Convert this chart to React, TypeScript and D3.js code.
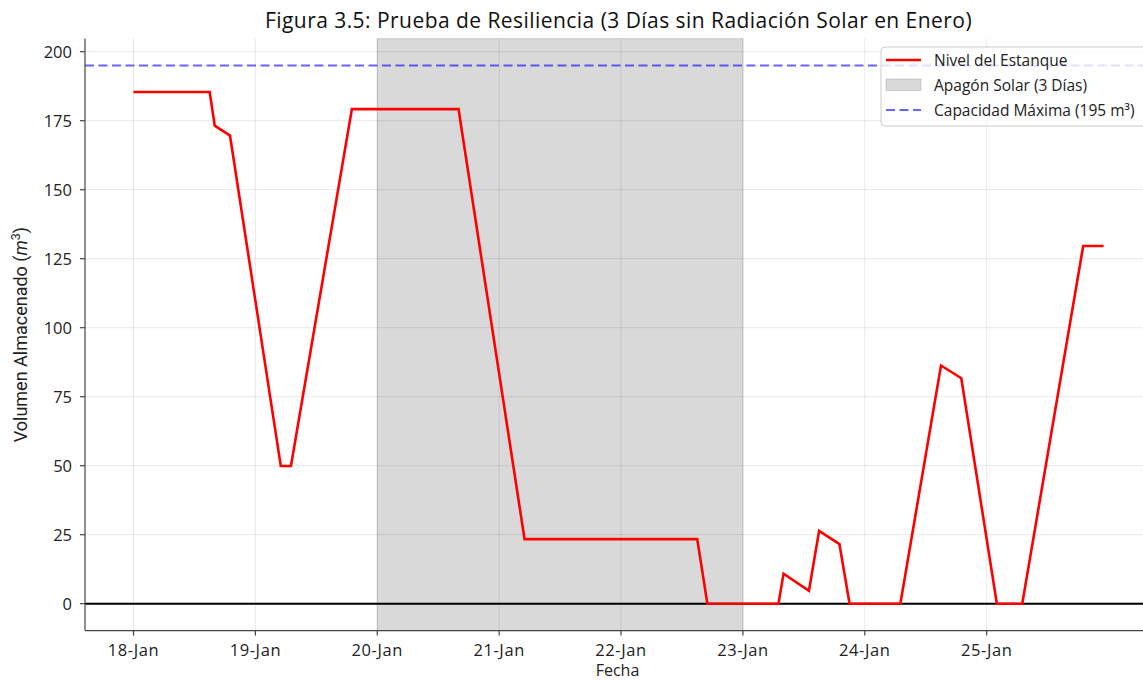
import { useMemo } from "react";
import * as d3 from "d3";

// vertices of the hourly series (hourly points between them lie on straight segments)
const timestamps = [
  "2024-01-18 00:00", "2024-01-18 15:00", "2024-01-18 16:00", "2024-01-18 19:00",
  "2024-01-19 05:00", "2024-01-19 07:00", "2024-01-19 19:00", "2024-01-20 16:00",
  "2024-01-21 05:00", "2024-01-22 15:00", "2024-01-22 17:00", "2024-01-23 07:00",
  "2024-01-23 08:00", "2024-01-23 13:00", "2024-01-23 15:00", "2024-01-23 19:00",
  "2024-01-23 21:00", "2024-01-24 07:00", "2024-01-24 15:00", "2024-01-24 19:00",
  "2024-01-25 02:00", "2024-01-25 07:00", "2024-01-25 19:00", "2024-01-25 23:00",
];
const volumes = [
  185.4, 185.4, 173.2, 169.6,
  49.9, 49.9, 179.2, 179.2,
  23.4, 23.4, 0, 0,
  10.9, 4.7, 26.4, 21.6,
  0, 0, 86.3, 81.7,
  0, 0, 129.6, 129.6,
];
const blackoutStart = "2024-01-20 00:00";
const blackoutEnd = "2024-01-23 00:00";
const capacity = 195;
const yTicks = [0, 25, 50, 75, 100, 125, 150, 175, 200];
const xTickDates = [
  "2024-01-18 00:00", "2024-01-19 00:00", "2024-01-20 00:00", "2024-01-21 00:00",
  "2024-01-22 00:00", "2024-01-23 00:00", "2024-01-24 00:00", "2024-01-25 00:00",
];

const W = 1143;
const H = 682;
const FONT = "'Open Sans', Roboto, sans-serif";

const App = () => {
  const parse = d3.timeParse("%Y-%m-%d %H:%M");
  const fmt = d3.timeFormat("%d-%b");

  const { x, y, points } = useMemo(() => {
    const pts = timestamps.map((t, i) => ({ date: parse(t) as Date, v: volumes[i] }));
    const [t0, t1] = d3.extent(pts, (d) => d.date) as [Date, Date];
    const pad = (t1.getTime() - t0.getTime()) * 0.05;
    const xs = d3
      .scaleTime()
      .domain([new Date(t0.getTime() - pad), new Date(t1.getTime() + pad)])
      .range([85, 1152]);
    const ys = d3
      .scaleLinear()
      .domain([-capacity * 0.05, capacity * 1.05])
      .range([630.6, 38.6]);
    return { x: xs, y: ys, points: pts };
  }, []);

  const line = d3
    .line<{ date: Date; v: number }>()
    .x((d) => x(d.date))
    .y((d) => y(d.v));

  const [x0, x1] = x.range();
  const [y0, y1] = y.range();
  const spanA = x(parse(blackoutStart) as Date);
  const spanB = x(parse(blackoutEnd) as Date);
  const ticksX = xTickDates.map((t) => parse(t) as Date);

  return (
    <svg
      width={W}
      height={H}
      style={{ position: "absolute", left: 0, top: 0, background: "#fff" }}
      fontFamily={FONT}
    >
      {/* blackout span */}
      <rect
        x={spanA}
        y={y1}
        width={spanB - spanA}
        height={y0 - y1}
        fill="#808080"
        fillOpacity={0.3}
        stroke="#808080"
        strokeOpacity={0.3}
        strokeWidth={1}
      />

      {/* grid */}
      <g stroke="#000" strokeOpacity={0.09} strokeWidth={1}>
        {ticksX.map((d, i) => (
          <line key={"gx" + i} x1={x(d)} x2={x(d)} y1={y1} y2={y0} />
        ))}
        {yTicks.map((v) => (
          <line key={"gy" + v} x1={x0} x2={x1} y1={y(v)} y2={y(v)} />
        ))}
      </g>

      {/* zero line */}
      <line x1={x0} x2={x1} y1={y(0)} y2={y(0)} stroke="#000" strokeWidth={2} />

      {/* capacity */}
      <line
        x1={x0}
        x2={x1}
        y1={y(capacity)}
        y2={y(capacity)}
        stroke="#0000ff"
        strokeOpacity={0.6}
        strokeWidth={2}
        strokeDasharray="9,4.5"
      />

      {/* series */}
      <path
        d={line(points) || ""}
        fill="none"
        stroke="#ff0000"
        strokeWidth={2.6}
        strokeLinejoin="miter"
      />

      {/* spines */}
      <line x1={x0} x2={x0} y1={y1} y2={y0} stroke="#444" strokeWidth={1.2} />
      <line x1={x0} x2={x1} y1={y0} y2={y0} stroke="#444" strokeWidth={1.2} />

      {/* y ticks */}
      {yTicks.map((v) => (
        <g key={"ty" + v}>
          <line x1={x0 - 5} x2={x0} y1={y(v)} y2={y(v)} stroke="#444" strokeWidth={1.2} />
          <text
            x={x0 - 13}
            y={y(v)}
            dy="0.36em"
            textAnchor="end"
            fontSize={16.5}
            fill="#222"
          >
            {v}
          </text>
        </g>
      ))}

      {/* x ticks */}
      {ticksX.map((d, i) => (
        <g key={"tx" + i}>
          <line x1={x(d)} x2={x(d)} y1={y0} y2={y0 + 5} stroke="#444" strokeWidth={1.2} />
          <text
            x={x(d)}
            y={y0 + 25.5}
            textAnchor="middle"
            fontSize={16.5}
            letterSpacing={0.6}
            fill="#222"
          >
            {fmt(d)}
          </text>
        </g>
      ))}

      {/* axis labels */}
      <text x={(x0 + x1) / 2 - 1} y={676} textAnchor="middle" fontSize={16} fill="#222">
        Fecha
      </text>
      <text
        transform={`translate(27, ${(y0 + y1) / 2 + 0}) rotate(-90)`}
        textAnchor="middle"
        fontSize={18}
        fontFamily="Roboto, sans-serif"
        fill="#222"
      >
        Volumen Almacenado (<tspan fontStyle="italic">m</tspan>
        <tspan dy={-7} fontSize={12.5}>3</tspan>
        <tspan dy={7}>)</tspan>
      </text>

      {/* title */}
      <text
        x={618.5}
        y={28}
        textAnchor="middle"
        fontSize={21}
        letterSpacing={0.45}
        fill="#111"
      >
        Figura 3.5: Prueba de Resiliencia (3 Días sin Radiación Solar en Enero)
      </text>

      {/* legend */}
      <g transform="translate(881, 47)">
        <rect
          x={0}
          y={0}
          width={280}
          height={79}
          rx={4}
          fill="#fff"
          fillOpacity={0.8}
          stroke="#ccc"
          strokeWidth={1}
        />
        <line x1={5} x2={40} y1={13} y2={13} stroke="#ff0000" strokeWidth={2.6} />
        <rect
          x={5}
          y={32}
          width={35}
          height={11.5}
          fill="#808080"
          fillOpacity={0.3}
          stroke="#808080"
          strokeOpacity={0.3}
        />
        <line
          x1={5}
          x2={40}
          y1={63}
          y2={63}
          stroke="#0000ff"
          strokeOpacity={0.6}
          strokeWidth={2}
          strokeDasharray="9,4.5"
        />
        <g fontSize={15.5} fill="#222">
          <text x={53} y={13} dy="0.36em">Nivel del Estanque</text>
          <text x={53} y={38} dy="0.36em">Apagón Solar (3 Días)</text>
          <text x={53} y={63} dy="0.36em">Capacidad Máxima (195 m³)</text>
        </g>
      </g>
    </svg>
  );
};

export default App;
